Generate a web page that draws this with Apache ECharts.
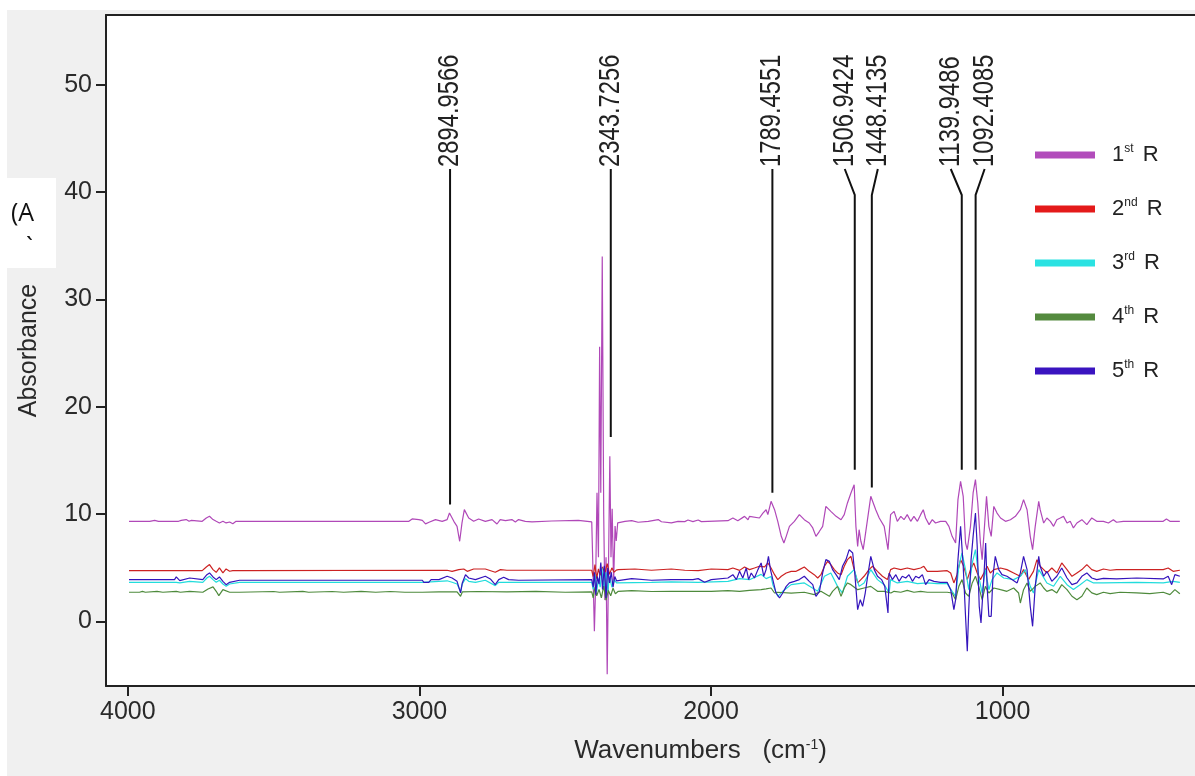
<!DOCTYPE html>
<html><head><meta charset="utf-8">
<script src="https://cdn.jsdelivr.net/npm/echarts@6/dist/echarts.min.js"></script>
<style>html,body{margin:0;padding:0;background:#fff}#c{width:1195px;height:776px}</style>
</head><body><div id="c"></div>
<script>
// ---- data: [wavenumber (cm-1), absorbance] ----
const seriesNames = ['1st R', '2nd R', '3rd R', '4th R', '5th R'];

const r1 = [[3996,9.34],[3925,9.34],[3919,9.19],[3908,9.43],[3895,9.34],[3840,9.34],[3834,9.50],[3826,9.34],[3817,9.43],[3800,9.50],[3790,9.34],[3782,9.43],[3745,9.34],[3731,9.65],[3720,9.81],[3708,9.50],[3697,9.34],[3686,9.19],[3674,9.34],[3663,9.19],[3651,9.28],[3640,9.12],[3629,9.34],[3617,9.34],[3036,9.34],[3025,9.56],[3002,9.50],
[2990,9.43],[2979,9.10],[2967,9.25],[2945,9.50],[2922,9.34],[2905,9.50],[2897,10.12],[2882,9.34],[2871,8.87],[2862,7.48],[2854,9.19],[2846,10.43],[2831,9.65],[2814,9.34],[2797,9.56],[2774,9.34],[2751,9.50],[2734,9.09],[2723,9.50],[2705,9.40],[2683,9.50],[2671,9.28],[2660,9.50],[2637,9.34],[2614,9.28],[2546,9.37],[2540,9.28],[2455,9.43],[2449,9.28],[2409,9.28],
[2405,5.0],[2400,-0.9],[2396,3.0],[2391,12.0],[2386,6.0],[2382,25.6],[2378,12.0],[2373,34.0],[2368,10.0],[2364,2.0],[2360,6.0],[2356,-4.9],[2352,4.0],[2347,15.4],[2343,6.0],[2339,10.5],[2334,3.6],[2329,8.9],[2325,7.5],[2320,9.2],
[2318,9.34],[2295,9.34],[2272,9.40],[2250,9.25],[2215,9.34],[2181,9.50],[2170,9.30],[2136,9.19],[2113,9.34],[2090,9.31],[2079,9.46],[2062,9.31],[2044,9.46],[2033,9.31],[1942,9.40],[1925,9.65],[1908,9.40],[1885,9.80],[1873,9.49],[1868,9.80],[1834,9.65],[1822,10.11],[1811,10.42],[1805,9.96],[1794,11.2],[1782,10.42],[1771,9.34],[1759,7.94],[1750,7.32],[1742,7.94],[1731,8.87],[1714,9.34],[1697,9.96],[1680,9.49],[1663,9.18],[1651,8.72],[1640,7.94],[1628,8.41],[1617,8.87],[1606,10.73],[1589,10.27],[1571,9.80],[1554,9.49],[1543,9.96],[1532,11.05],[1520,11.98],[1509,12.75],[1503,8.87],[1497,7.01],[1492,8.56],[1486,7.48],[1478,6.70],[1469,8.41],[1452,11.67],[1435,10.42],[1423,9.65],[1406,8.87],[1393,6.70],[1384,9.96],[1372,10.27],[1361,9.34],[1349,9.80],[1338,9.49],[1327,9.96],[1315,9.34],[1304,9.80],[1292,9.34],[1281,9.96],[1272,10.42],[1264,9.65],[1252,9.03],[1241,9.49],[1230,9.18],[1213,9.34],[1195,9.34],[1184,8.87],[1173,7.94],[1161,7.32],[1153,11.36],[1144,13.06],[1135,11.67],[1127,7.32],[1121,6.70],[1110,8.87],[1101,11.98],[1093,13.22],[1085,11.05],[1076,7.32],[1070,5.77],[1062,8.87],[1055,11.67],[1047,8.87],[1039,7.94],[1030,10.73],[1019,10.11],[1007,9.65],[990,9.34],[973,9.49],[956,9.80],[939,10.42],[928,11.36],[916,10.42],[905,7.94],[897,6.70],[888,8.87],[876,11.20],[871,10.42],[859,9.18],[848,9.65],[836,9.34],[825,8.87],[814,9.49],[802,9.65],[791,9.80],[779,9.18],[768,9.34],[757,8.72],[745,9.18],[728,9.49],[711,9.03],[694,9.65],[677,9.34],[654,9.34],[637,9.18],[620,9.49],[609,9.25],[586,9.34],[540,9.34],[449,9.34],[438,9.56],[426,9.34],[392,9.34]];

const r2 = [[3996,4.75],[3925,4.75],[3919,4.90],[3910,4.75],[3840,4.75],[3834,4.90],[3825,4.75],[3745,4.75],[3731,5.09],[3720,5.31],[3708,4.84],[3697,4.59],[3686,5.00],[3674,4.53],[3663,4.90],[3651,4.69],[3640,4.75],[3617,4.75],
[2905,4.78],[2888,4.68],[2865,4.84],[2848,4.90],[2836,4.68],[2814,4.90],[2774,4.90],[2740,4.59],[2722,4.84],[2700,4.78],[2409,4.78],
[2404,4.2],[2398,5.3],[2392,4.0],[2386,4.9],[2380,4.3],[2372,5.1],[2364,4.5],[2356,5.4],[2348,4.4],[2340,5.0],[2332,4.6],[2325,4.8],
[2318,4.84],[2261,4.90],[2204,4.78],[2136,4.90],[2090,4.78],
[2044,4.74],[1999,4.90],[1942,4.84],[1925,4.99],[1902,4.77],[1885,5.09],[1868,4.84],[1851,4.99],[1834,5.15],[1816,5.09],[1805,5.46],[1794,4.99],[1782,4.37],[1771,3.91],[1759,4.22],[1742,4.53],[1725,4.68],[1708,4.68],[1697,4.84],[1680,5.09],[1663,4.68],[1646,4.37],[1634,4.06],[1623,4.37],[1611,5.15],[1600,5.61],[1589,5.30],[1577,4.84],[1566,4.53],[1554,4.37],[1543,5.15],[1532,5.77],[1520,6.08],[1509,4.84],[1497,3.60],[1486,3.91],[1475,4.22],[1458,4.84],[1446,5.15],[1429,4.68],[1412,4.22],[1395,3.91],
[1384,4.84],[1372,4.99],[1349,4.84],[1327,4.99],[1304,4.84],[1281,4.99],[1270,5.15],[1258,4.68],[1224,4.68],[1190,4.74],[1178,4.53],[1167,3.60],[1156,4.37],[1144,5.77],[1133,5.15],[1121,3.91],[1110,4.84],[1099,5.46],[1087,4.53],[1076,3.91],[1064,4.53],[1053,5.15],[1042,4.53],[1030,4.84],[1007,4.99],[985,4.84],[962,4.53],[950,4.37],[939,4.22],[928,4.84],[911,3.91],[894,4.68],
[882,5.77],[871,5.15],[859,4.84],[848,4.53],[831,4.99],[814,4.53],[797,5.46],[779,4.84],[762,4.22],[745,4.53],[728,4.84],[711,5.30],[694,4.84],[677,4.68],[654,4.90],[631,4.78],[609,4.84],[449,4.84],[432,4.99],[415,4.68],[392,4.78]];

const r3 = [[3996,3.66],[3925,3.66],[3919,3.82],[3910,3.66],[3834,3.66],[3822,3.60],[3788,3.75],[3743,3.66],[3729,4.06],[3720,4.22],[3708,3.91],[3697,3.66],[3686,3.85],[3674,3.50],[3663,3.30],[3651,3.50],[3617,3.66],[2990,3.66],
[2905,3.80],[2888,3.66],[2871,3.50],[2859,2.80],[2853,3.50],[2842,4.00],[2831,3.75],[2808,3.66],[2774,3.85],[2740,3.35],[2728,3.66],[2660,3.66],[2409,3.66],
[2404,3.0],[2398,4.4],[2392,2.8],[2386,4.0],[2380,3.2],[2374,5.0],[2368,3.0],[2360,4.6],[2354,2.8],[2348,4.2],[2340,3.2],[2332,3.9],[2324,3.6],
[2318,3.66],[2204,3.66],[2136,3.70],[2044,3.66],
[1942,3.75],[1902,4.00],[1868,3.90],[1828,4.40],[1811,4.00],[1794,4.20],[1788,3.44],[1771,2.35],[1754,2.82],[1725,3.44],[1680,3.60],[1634,2.82],[1611,4.22],[1589,4.53],[1566,3.28],[1549,2.66],[1532,4.22],[1509,4.84],[1492,3.28],[1475,3.60],[1452,4.84],[1429,3.91],[1406,3.44],[1389,2.66],
[1384,3.91],[1361,3.60],[1327,3.75],[1292,3.53],[1258,3.60],[1224,3.53],[1190,3.53],[1173,2.82],[1161,2.35],[1150,5.15],[1139,6.39],[1127,4.84],[1116,2.97],[1104,5.46],[1093,6.70],[1082,4.22],[1070,2.66],[1059,4.84],[1047,2.97],[1036,3.91],[1019,4.53],[996,4.06],[962,3.91],[939,4.22],[922,4.84],[905,3.28],[894,2.66],[876,4.84],
[865,4.37],[848,3.60],[825,3.29],[802,4.22],[779,3.44],[757,2.98],[734,3.44],[711,3.91],[688,3.60],[654,3.60],[540,3.66],[449,3.60],[415,3.75],[392,3.66]];

const r4 = [[3996,2.73],[3960,2.73],[3950,2.82],[3940,2.73],[3900,2.82],[3880,2.73],[3834,2.82],[3820,2.73],[3788,2.82],[3743,2.73],[3725,3.04],[3708,3.23],[3697,2.82],[3688,2.42],[3674,2.98],[3651,2.73],[3617,2.73],[3500,2.80],[3480,2.73],[3400,2.82],[3380,2.73],[3300,2.80],[3260,2.73],[3200,2.82],[3150,2.73],[3100,2.80],[3050,2.73],[2990,2.73],
[2933,2.76],[2871,2.76],[2859,2.36],[2853,2.76],[2800,2.80],[2700,2.76],[2600,2.82],[2500,2.73],[2409,2.76],
[2404,2.2],[2398,3.2],[2392,2.4],[2384,3.0],[2376,2.2],[2368,3.3],[2360,2.0],[2352,2.9],[2344,2.4],[2336,3.1],[2328,2.6],
[2318,2.82],[2272,2.88],[2204,2.80],[2136,2.82],[2044,2.82],
[1999,2.82],[1942,2.88],[1902,2.82],[1868,2.91],[1828,2.97],[1811,3.04],[1794,3.13],[1782,2.66],[1771,2.73],[1725,2.66],[1680,2.73],[1646,2.51],[1623,2.82],[1594,2.35],[1583,2.82],[1566,3.28],[1554,2.35],[1543,3.13],[1532,3.60],[1520,3.44],[1497,2.97],[1475,3.13],[1452,3.28],[1429,2.82],[1406,2.82],[1383,2.66],
[1372,2.82],[1349,2.73],[1327,2.91],[1304,2.73],[1281,2.82],[1258,2.73],[1224,2.73],[1190,2.73],[1173,2.66],[1161,2.04],[1150,3.28],[1139,3.91],[1127,2.66],[1116,2.35],[1104,3.60],[1093,4.22],[1082,3.28],[1070,2.04],[1059,3.28],[1047,2.66],[1030,3.13],[1007,2.97],[985,2.82],[962,3.13],[945,2.66],[939,1.73],[928,2.97],[916,3.60],[905,2.82],[888,3.28],[871,3.60],
[859,3.13],[848,2.82],[831,2.98],[814,2.67],[797,3.44],[779,2.98],[762,2.36],[745,2.04],[728,2.36],[711,3.13],[694,2.67],[677,2.51],[654,2.73],[631,2.60],[597,2.73],[540,2.67],[495,2.60],[449,2.73],[426,2.51],[409,2.98],[392,2.60]];

const r5 = [[3996,3.91],[3925,3.91],[3919,4.06],[3910,3.91],[3840,3.91],[3834,4.16],[3822,3.82],[3788,4.06],[3743,3.91],[3729,4.37],[3720,4.53],[3708,4.16],[3697,3.91],[3686,4.16],[3674,3.75],[3663,3.44],[3651,3.66],[3617,3.85],[2990,3.85],[2985,3.66],[2968,3.66],[2960,3.91],
[2933,3.91],[2905,4.22],[2888,4.06],[2871,3.75],[2859,2.67],[2853,3.60],[2842,4.37],[2831,4.06],[2808,3.91],[2774,4.22],[2757,3.97],[2740,3.44],[2728,3.91],[2711,4.13],[2694,3.91],[2660,3.85],[2409,3.91],
[2404,3.2],[2400,4.6],[2395,2.5],[2390,4.2],[2384,3.5],[2378,5.5],[2372,3.0],[2366,5.2],[2360,2.2],[2354,5.0],[2348,3.6],[2342,4.6],[2336,3.2],[2330,4.2],[2324,3.8],
[2318,3.91],[2272,4.00],[2204,3.85],[2136,3.91],[2090,3.91],
[2062,3.91],[2044,4.00],[2022,3.66],[1999,3.91],[1942,4.06],[1925,4.37],[1913,3.91],[1902,4.68],[1891,4.06],[1879,4.99],[1871,3.91],[1862,4.53],[1851,4.06],[1839,4.84],[1828,5.46],[1819,4.22],[1811,4.84],[1803,6.08],[1796,4.84],[1788,3.91],[1777,2.66],[1765,2.20],[1754,2.66],[1742,3.28],[1731,3.60],[1714,3.75],[1697,3.91],[1680,4.22],[1663,3.75],[1651,3.44],[1640,2.35],[1628,2.82],[1617,4.53],[1606,5.77],[1594,5.61],[1583,4.84],[1571,4.37],[1560,3.91],[1549,5.15],[1537,5.77],[1526,6.70],[1514,6.39],[1507,4.53],[1497,1.11],[1488,2.04],[1480,1.42],[1471,2.66],[1461,4.53],[1452,6.08],[1440,4.84],[1429,4.22],[1415,3.91],[1404,3.28],[1393,0.80],
[1389,4.53],[1378,3.91],[1366,4.37],[1355,3.75],[1344,4.22],[1332,4.06],[1321,4.37],[1309,3.75],[1298,4.22],[1287,4.06],[1275,4.37],[1264,3.44],[1252,3.91],[1235,3.75],[1213,3.66],[1190,3.66],[1178,2.97],[1167,1.11],[1161,2.04],[1153,5.77],[1144,8.87],[1135,5.15],[1127,0.49],[1121,-2.77],[1116,1.11],[1108,5.77],[1101,7.94],[1093,10.11],[1087,7.01],[1080,1.42],[1074,-0.13],[1064,4.22],[1058,7.32],[1053,3.28],[1047,0.49],[1039,0.49],[1033,4.22],[1025,6.08],[1013,4.84],[1002,4.37],[985,4.22],[968,3.91],[950,3.60],[939,4.53],[928,6.08],[916,4.84],[905,1.42],[897,-0.44],[888,3.28],[876,6.08],
[871,5.15],[859,4.22],[848,4.68],[831,3.75],[814,4.22],[797,4.99],[779,4.06],[762,3.44],[745,3.60],[728,4.22],[711,4.53],[694,4.06],[677,3.91],[654,4.03],[609,3.97],[540,4.06],[449,3.97],[432,4.22],[420,3.44],[409,4.37],[392,4.22]];

// peak annotations: wavenumber and the absorbance where the leader line ends
const peakWavenumbers = [2894.9566, 2343.7256, 1789.4551, 1506.9424, 1448.4135, 1139.9486, 1092.4085];
const peakLineEnds = [10.9, 17.2, 12.0, 14.15, 12.5, 14.15, 14.15];

// axis tick values
const xTicks = [1000, 2000, 3000, 4000];
const yTicks = [0, 10, 20, 30, 40, 50];

// ---- layout / style ----
const labelShift = [0, 0, 0, -10, 6, -11, 9]; // px offsets of labels from leader lines
const colors = ['#b048b8', '#cc2222', '#22dcdc', '#4e8a3c', '#3414bc'];
const legendColors = ['#b24cbb', '#e41a1a', '#2ae2e2', '#548a3e', '#3a14c0'];
const FONT = '"Liberation Sans", Arial, sans-serif';

const chart = echarts.init(document.getElementById('c'), null, {renderer: 'canvas'});
const allData = [r1, r2, r3, r4, r5];

const lineSeries = seriesNames.map((n, i) => ({
  name: n, type: 'line', data: allData[i], showSymbol: false, symbol: 'none',
  lineStyle: {width: 1.2, color: colors[i]}, itemStyle: {color: legendColors[i]},
  z: 2 + i, animation: false
}));

const peakSeries = {
  type: 'custom', name: 'peaks', coordinateSystem: 'cartesian2d', clip: false, z: 20,
  data: peakWavenumbers.map((w, i) => [w, peakLineEnds[i]]),
  silent: true,
  renderItem: function (params, api) {
    const i = params.dataIndex;
    const p = api.coord([api.value(0), api.value(1)]);
    const cs = params.coordSys;
    const lx = p[0] + labelShift[i];
    const yb = cs.y + 152;
    const yk = cs.y + 180;
    const pts = labelShift[i] === 0 ? [[p[0], yb + 2], [p[0], p[1]]]
                                    : [[lx, yb + 2], [p[0], yk], [p[0], p[1]]];
    return {
      type: 'group',
      children: [
        {type: 'polyline', shape: {points: pts}, style: {stroke: '#111', lineWidth: 2, fill: null}},
        {type: 'text', x: lx, y: yb, rotation: Math.PI / 2, scaleX: 0.82, scaleY: 1,
         style: {text: peakWavenumbers[i].toFixed(4), fontSize: 29, fontFamily: FONT, fill: '#222',
                 align: 'left', verticalAlign: 'middle'}}
      ]
    };
  }
};

const option = {
  animation: false,
  backgroundColor: '#f0f0f0',
  textStyle: {fontFamily: FONT},
  graphic: [
    {type: 'rect', left: 0, top: 0, shape: {width: 1195, height: 10}, style: {fill: '#fff'}, z: -1},
    {type: 'rect', left: 0, top: 0, shape: {width: 7, height: 776}, style: {fill: '#fff'}, z: -1},
    {type: 'rect', left: 0, top: 178, shape: {width: 56, height: 90}, style: {fill: '#fff'}, z: 1},
    {type: 'text', left: 11, top: 201, style: {text: '(A', fontSize: 25, fontFamily: '"Open Sans", "Noto Sans", sans-serif', fill: '#111'}, z: 2},
    {type: 'text', left: 26, top: 236, style: {text: '`', fontSize: 25, fontFamily: '"Open Sans", "Noto Sans", sans-serif', fill: '#111'}, z: 2}
  ],
  grid: {left: 106, right: -3, top: 15, bottom: 90, show: true, backgroundColor: '#fff', borderWidth: 0},
  legend: {
    orient: 'vertical', left: 1030, top: 138, itemWidth: 60, itemHeight: 7, itemGap: 30,
    icon: 'rect', data: seriesNames.map((n, i) => ({name: n, itemStyle: {color: legendColors[i]}})),
    formatter: n => n.replace(/^(\d)(st|nd|rd|th) R$/, '$1{sup|$2} R'),
    textStyle: {fontSize: 22, color: '#222', fontFamily: FONT, padding: [0, 0, 0, 12], lineHeight: 24,
                rich: {sup: {fontSize: 12, verticalAlign: 'top', lineHeight: 24, padding: [0, 3, 12, 0], fontFamily: FONT, color: '#222'}}}
  },
  xAxis: [{
    type: 'value', inverse: true, min: 340, max: 4075,
    axisLine: {show: true, onZero: false, lineStyle: {color: '#222', width: 2}},
    axisTick: {show: true, customValues: xTicks, length: 10, lineStyle: {color: '#222', width: 2}},
    axisLabel: {customValues: xTicks, fontSize: 25, color: '#2a2a2a', margin: 14, fontFamily: FONT,
                formatter: v => String(v)},
    splitLine: {show: false},
    name: 'Wavenumbers   (cm{sup|-1})', nameLocation: 'middle', nameGap: 52,
    nameTextStyle: {fontSize: 26, color: '#2a2a2a', fontFamily: FONT, padding: [0, 0, 0, 100],
                    rich: {sup: {fontSize: 14, verticalAlign: 'top', padding: [0, 0, 12, 0], color: '#2a2a2a', fontFamily: FONT}}}
  }, {
    type: 'value', inverse: true, min: 340, max: 4075, position: 'top',
    axisLine: {show: true, onZero: false, lineStyle: {color: '#222', width: 2}},
    axisTick: {show: false}, axisLabel: {show: false}, splitLine: {show: false}
  }],
  yAxis: {
    type: 'value', min: -6, max: 56.5,
    axisLine: {show: true, onZero: false, lineStyle: {color: '#222', width: 2}},
    axisTick: {show: true, customValues: yTicks, length: 10, lineStyle: {color: '#222', width: 2}},
    axisLabel: {customValues: yTicks, fontSize: 25, color: '#2a2a2a', margin: 14, fontFamily: FONT},
    splitLine: {show: false},
    name: 'Absorbance', nameLocation: 'middle', nameGap: 64, nameRotate: 90,
    nameTextStyle: {fontSize: 25, color: '#2a2a2a', fontFamily: FONT}
  },
  series: lineSeries.concat([peakSeries])
};
chart.setOption(option);
</script></body></html>
